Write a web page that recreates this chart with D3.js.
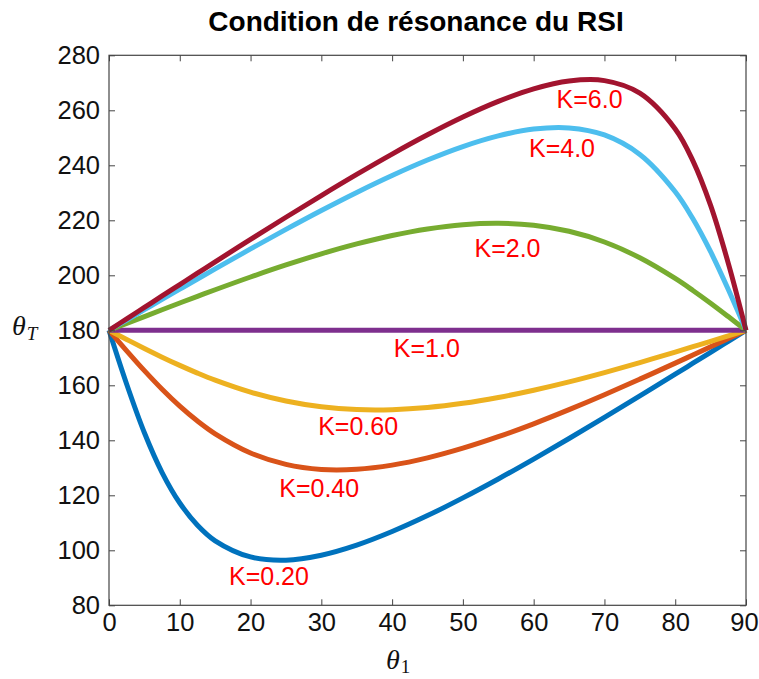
<!DOCTYPE html>
<html>
<head>
<meta charset="UTF-8" />
<script src="https://cdn.jsdelivr.net/npm/d3@7"></script>
<title>Condition de résonance du RSI</title>
<style>
  body { margin: 0; background: white; }
  svg { font-family: "Liberation Sans", Arial, sans-serif; }
</style>
</head>
<body>
<div id="chart"></div>
<script>
// theta_1 sample points (degrees)
const theta1 = [0, 2.5, 5, 7.5, 10, 12.5, 15, 20, 25, 30, 35, 40, 45, 50, 55, 60, 65, 70, 75, 80, 82.5, 85, 87.5, 90];

// theta_T for each K
const k020 = [180, 160.38, 142.74, 128.28, 117.2, 109.12, 103.46, 97.58, 96.42, 98.22, 101.88, 106.82, 112.62, 119.06, 125.94, 133.18, 140.66, 148.32, 156.14, 164.04, 168.02, 172.0, 176.0, 180];
const k040 = [180, 172.54, 165.32, 158.56, 152.42, 147.0, 142.36, 135.40, 131.24, 129.42, 129.48, 130.98, 133.60, 137.12, 141.30, 146.0, 151.14, 156.56, 162.24, 168.06, 171.02, 174.0, 177.0, 180];
const k060 = [180, 176.68, 173.40, 170.24, 167.24, 164.44, 161.88, 157.52, 154.30, 152.20, 151.18, 151.14, 151.92, 153.44, 155.58, 158.22, 161.26, 164.64, 168.26, 172.08, 174.04, 176.0, 178.0, 180];
const k100 = [180, 180, 180, 180, 180, 180, 180, 180, 180, 180, 180, 180, 180, 180, 180, 180, 180, 180, 180, 180, 180, 180, 180, 180];
const k200 = [180, 182.50, 184.99, 187.47, 189.92, 192.35, 194.74, 199.38, 203.76, 207.80, 211.40, 214.48, 216.86, 218.42, 218.94, 218.22, 216.0, 212.12, 206.38, 198.86, 194.5, 189.86, 184.98, 180];
const k400 = [180, 183.75, 187.49, 191.23, 194.95, 198.66, 202.34, 209.60, 216.70, 223.57, 230.14, 236.30, 241.92, 246.82, 250.70, 253.18, 253.60, 251.04, 243.96, 230.40, 220.54, 208.58, 194.82, 180];
const k600 = [180, 184.17, 188.33, 192.49, 196.63, 200.77, 204.89, 213.06, 221.11, 229.01, 236.69, 244.08, 251.08, 257.54, 263.22, 267.80, 270.66, 270.80, 266.24, 253.24, 241.62, 225.40, 204.36, 180];

const seriesNames = ["K=0.20", "K=0.40", "K=0.60", "K=1.0", "K=2.0", "K=4.0", "K=6.0"];
const seriesValues = [k020, k040, k060, k100, k200, k400, k600];
const colors = ["#0072BD", "#D95319", "#EDB120", "#7E2F8E", "#77AC30", "#4DBEEE", "#A2142F"];

// where each label sits, in data units (theta_1, theta_T)
const labelX = [22.6, 29.7, 35.2, 44.9, 56.3, 64.0, 67.9];
const labelY = [87.4, 119.3, 141.9, 170.4, 206.8, 243.1, 260.9];

const xTicks = [0, 10, 20, 30, 40, 50, 60, 70, 80, 90];
const yTicks = [80, 100, 120, 140, 160, 180, 200, 220, 240, 260, 280];

const w = 759, h = 679;
const mLeft = 109, mRight = 746, mTop = 55.3, mBottom = 605.3;

const x = d3.scaleLinear().domain([0, 90]).range([mLeft, mRight]);
const y = d3.scaleLinear().domain([80, 280]).range([mBottom, mTop]);

const svg = d3.select("#chart").append("svg").attr("width", w).attr("height", h);
svg.append("rect").attr("width", w).attr("height", h).attr("fill", "white");

// lines
const line = d3.line()
    .x((d, i) => x(theta1[i]))
    .y(d => y(d))
    .curve(d3.curveCatmullRom.alpha(0.5));

svg.selectAll("path.curve").data(seriesValues).enter()
    .append("path")
    .attr("class", "curve")
    .attr("d", line)
    .attr("fill", "none")
    .attr("stroke", (d, i) => colors[i])
    .attr("stroke-width", 5)
    .attr("stroke-linejoin", "round");

// axes (ticks inward)
const axisColor = "#444";
const xAxis = d3.axisBottom(x).tickValues(xTicks).tickSize(-6).tickPadding(8);
const yAxis = d3.axisLeft(y).tickValues(yTicks).tickSize(-6).tickPadding(9);

const gx = svg.append("g").attr("transform", "translate(0," + mBottom + ")").call(xAxis);
svg.append("g").attr("transform", "translate(" + mLeft + ",0)").call(yAxis);
svg.append("g").attr("transform", "translate(0," + mTop + ")")
    .call(d3.axisTop(x).tickValues(xTicks).tickSize(-6).tickFormat(""));
svg.append("g").attr("transform", "translate(" + mRight + ",0)")
    .call(d3.axisRight(y).tickValues(yTicks).tickSize(-6).tickFormat(""));

svg.selectAll(".domain").remove();
svg.selectAll(".tick line").attr("stroke", axisColor);
svg.selectAll(".tick text").attr("font-size", 25.5).attr("fill", "#111")
    .attr("font-family", "Liberation Sans, Arial, sans-serif");
// last x label sits right at the page edge; nudge it in a bit
gx.selectAll(".tick text").filter(d => d === 90).attr("dx", -2);

svg.append("rect")
    .attr("x", mLeft).attr("y", mTop)
    .attr("width", mRight - mLeft).attr("height", mBottom - mTop)
    .attr("fill", "none").attr("stroke", axisColor).attr("stroke-width", 1.2);

// curve labels
svg.selectAll("text.klabel").data(seriesNames).enter()
    .append("text")
    .attr("class", "klabel")
    .attr("x", (d, i) => x(labelX[i]))
    .attr("y", (d, i) => y(labelY[i]))
    .attr("text-anchor", "middle")
    .attr("font-size", 25)
    .attr("fill", "#FF0000")
    .text(d => d);

// title
svg.append("text")
    .attr("x", 416).attr("y", 31)
    .attr("text-anchor", "middle")
    .attr("font-size", 28).attr("font-weight", "bold")
    .attr("fill", "#000")
    .text("Condition de résonance du RSI");

// axis labels
const yl = svg.append("text")
    .attr("x", 12).attr("y", 335)
    .attr("font-family", "Liberation Serif, DejaVu Serif, serif")
    .attr("font-style", "italic")
    .attr("font-size", 28)
    .attr("fill", "#111");
yl.append("tspan").text("θ");
yl.append("tspan").attr("font-size", 19).attr("dy", 5).attr("dx", 1).text("T");

const xl = svg.append("text")
    .attr("x", 386).attr("y", 669)
    .attr("font-family", "Liberation Serif, DejaVu Serif, serif")
    .attr("font-size", 28)
    .attr("fill", "#111");
xl.append("tspan").attr("font-style", "italic").text("θ");
xl.append("tspan").attr("font-size", 19).attr("dy", 4).attr("dx", 1).text("1");
</script>
</body>
</html>
